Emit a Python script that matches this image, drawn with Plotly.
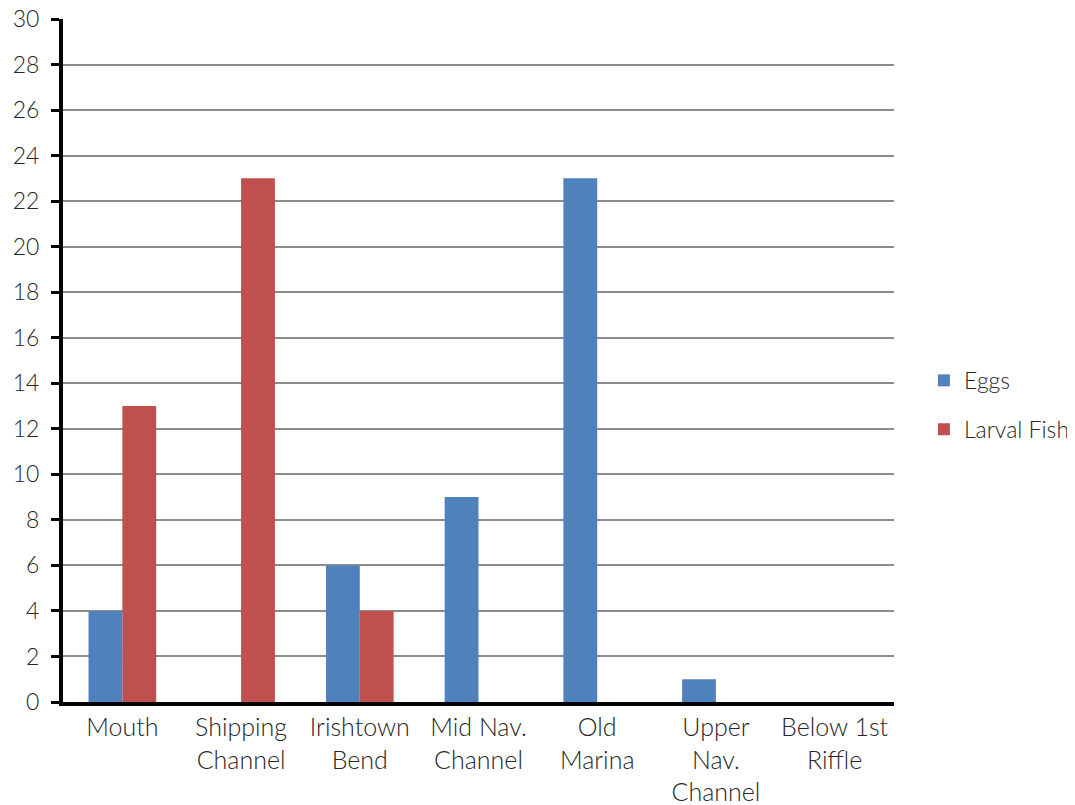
import plotly.graph_objects as go

categories = ["Mouth", "Shipping<br>Channel", "Irishtown<br>Bend", "Mid Nav.<br>Channel",
              "Old<br>Marina", "Upper<br>Nav.<br>Channel", "Below 1st<br>Riffle"]
eggs = [4, 0, 6, 9, 23, 1, 0]
larval_fish = [13, 23, 4, 0, 0, 0, 0]
y_ticks = list(range(0, 31, 2))

FONT = "Lato"
TXT = "#262626"
fig = go.Figure()
fig.add_trace(go.Bar(x=categories, y=eggs, name="Eggs", marker_color="#4F81BD",
                     legendgroup="a", marker_line_width=0))
fig.add_trace(go.Bar(x=categories, y=larval_fish, name="Larval Fish", marker_color="#C0504D",
                     legendgroup="b", marker_line_width=0))

fig.update_layout(
    width=1075, height=805,
    margin=dict(l=55, r=189, t=11, b=111, autoexpand=False),
    paper_bgcolor="white", plot_bgcolor="white",
    barmode="group", bargap=0.43, bargroupgap=0,
    font=dict(family=FONT, size=24, color=TXT, weight=300),
    legend=dict(x=1.036, y=0.435, xanchor="left", yanchor="middle",
                tracegroupgap=16, traceorder="grouped",
                font=dict(family=FONT, size=23, color=TXT, weight=300)),
    showlegend=True,
)
fig.update_xaxes(showline=True, linecolor="black", linewidth=4, ticks="",
                 showgrid=False, automargin=False, ticklabeloverflow="allow",
                 tickfont=dict(family=FONT, size=25, color=TXT, weight=300))
fig.update_yaxes(range=[0, 30], tickvals=y_ticks, showline=True, linecolor="black", linewidth=4,
                 ticks="outside", ticklen=8, tickwidth=3, tickcolor="black",
                 showgrid=True, gridcolor="#8C8C8C", gridwidth=1.5, zeroline=False,
                 automargin=False, ticklabelstandoff=7, ticklabeloverflow="allow",
                 tickfont=dict(family=FONT, size=23, color=TXT, weight=300))

fig.write_html("out.html")
